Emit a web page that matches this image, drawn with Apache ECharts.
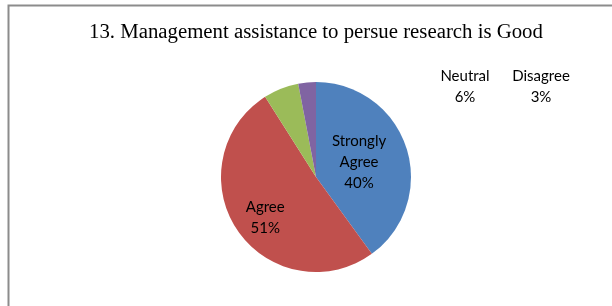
<!DOCTYPE html>
<html>
<head>
<meta charset="utf-8">
<script src="https://cdn.jsdelivr.net/npm/echarts@6/dist/echarts.min.js"></script>
<style>
  html, body { margin: 0; padding: 0; background: #fff; }
  #myChart { width: 612px; height: 306px; }
</style>
</head>
<body>
<div id="myChart"></div>
<script>
var categories = ["Strongly Agree", "Agree", "Neutral", "Disagree"];
var values = [40, 51, 6, 3];
var colors = ["#4F81BD", "#C0504D", "#9BBB59", "#8064A2"];

var pieData = categories.map(function (name, i) {
    return { name: name, value: values[i], itemStyle: { color: colors[i] } };
});

// label spots, matched to the picture
var labelSpots = [
    { dx: -5, dy: 1 },
    { dx: -9, dy: 12 },
    { x: 465, y: 87 },
    { x: 541, y: 87 }
];

var chart = echarts.init(document.getElementById("myChart"));
chart.setOption({
    animation: false,
    title: {
        text: "13. Management assistance to persue research is Good",
        left: 89,
        top: 22,
        padding: 0,
        textStyle: {
            fontFamily: "Liberation Serif",
            fontWeight: "normal",
            fontSize: 20.8,
            color: "#000"
        }
    },
    graphic: [{
        type: "rect",
        shape: { x: 8.5, y: 5.5, width: 620, height: 320 },
        style: { fill: "none", stroke: "#8c8c8c", lineWidth: 2 },
        silent: true
    }],
    series: [{
        type: "pie",
        center: [316, 177],
        radius: 95,
        startAngle: 90,
        clockwise: true,
        data: pieData,
        itemStyle: { borderWidth: 0 },
        label: {
            show: true,
            position: "inside",
            formatter: function (p) {
                return p.name.replace(" ", "\n") + "\n" + p.value + "%";
            },
            fontFamily: "Lato",
            fontSize: 15,
            lineHeight: 21,
            color: "#000"
        },
        labelLine: { show: false },
        labelLayout: function (params) {
            var s = labelSpots[params.dataIndex];
            if (s.x !== undefined) {
                return { x: s.x, y: s.y, align: "center", verticalAlign: "middle" };
            }
            return { dx: s.dx, dy: s.dy };
        }
    }]
});
</script>
</body>
</html>
